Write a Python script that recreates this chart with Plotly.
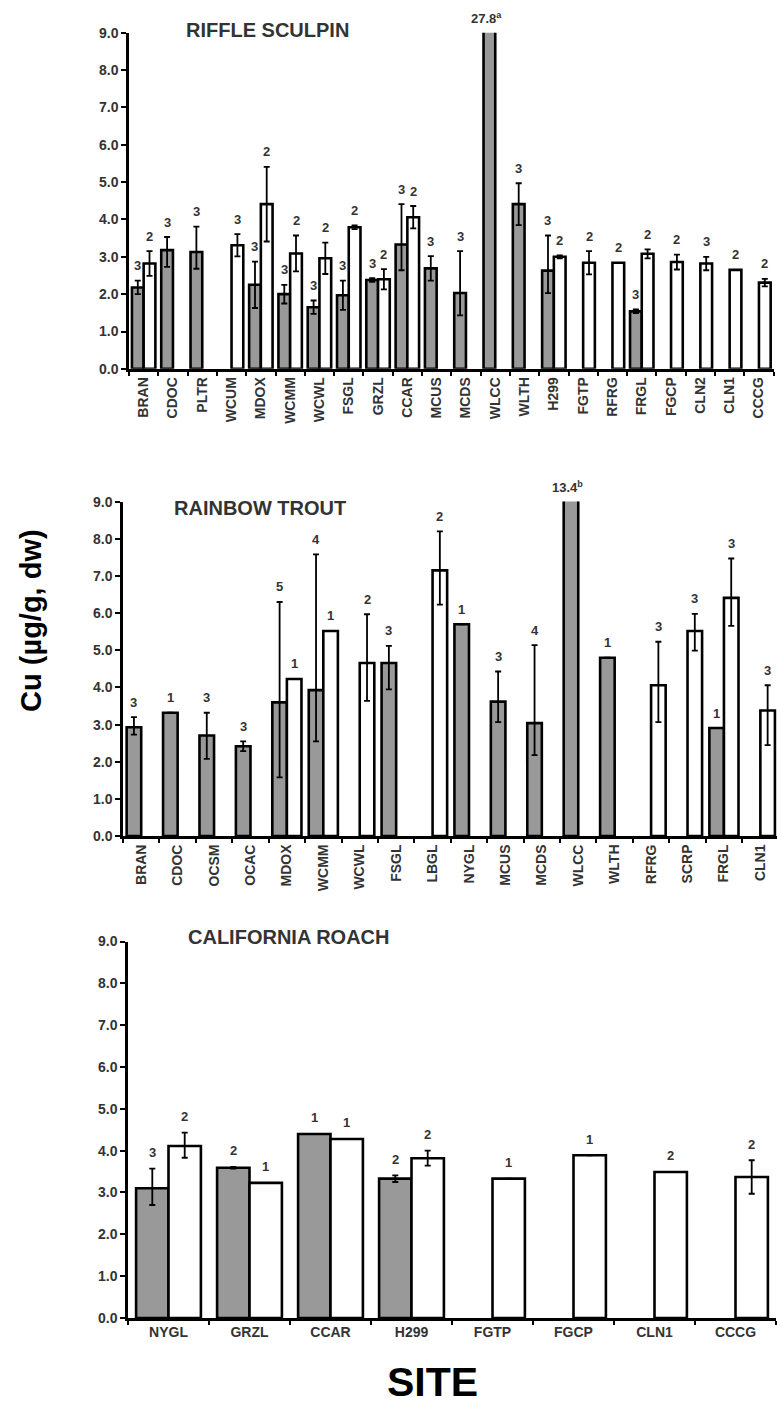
import plotly.graph_objects as go

W, H = 777, 1407
FONT = "Arial, Liberation Sans, sans-serif"
GRAY = "#999999"
TXT = "#333333"

# ---------------- RIFFLE SCULPIN ----------------
rs_sites = ["BRAN", "CDOC", "PLTR", "WCUM", "MDOX", "WCMM", "WCWL", "FSGL", "GRZL", "CCAR", "MCUS",
            "MCDS", "WLCC", "WLTH", "H299", "FGTP", "RFRG", "FRGL", "FGCP", "CLN2", "CLN1", "CCCG"]
rs_gray = [2.18, 3.18, 3.13, None, 2.25, 2.00, 1.65, 1.97, 2.38, 3.33, 2.69,
           2.03, 27.8, 4.41, 2.63, None, None, 1.54, None, None, None, None]
rs_gray_hi = [0.18, 0.35, 0.68, None, 0.62, 0.25, 0.18, 0.39, 0.05, 1.08, 0.33,
              1.12, None, 0.56, 0.94, None, None, 0.05, None, None, None, None]
rs_gray_lo = [0.18, 0.45, 0.45, None, 0.62, 0.25, 0.18, 0.39, 0.05, 0.69, 0.33,
              0.60, None, 0.56, 0.60, None, None, 0.05, None, None, None, None]
rs_gray_n = ["3", "3", "3", "", "3", "3", "3", "3", "3", "3", "3",
             "3", "", "3", "3", "", "", "3", "", "", "", ""]
rs_white = [2.82, None, None, 3.31, 4.41, 3.09, 2.96, 3.79, 2.40, 4.06, None,
            None, None, None, 3.00, 2.84, 2.84, 3.08, 2.86, 2.82, 2.65, 2.31]
rs_white_hi = [0.33, None, None, 0.30, 1.00, 0.48, 0.42, 0.05, 0.27, 0.30, None,
               None, None, None, 0.04, 0.31, None, 0.12, 0.20, 0.18, None, 0.10]
rs_white_n = ["2", "", "", "3", "2", "2", "2", "2", "2", "2", "",
              "", "", "", "2", "2", "2", "2", "2", "3", "2", "2"]

# ---------------- RAINBOW TROUT ----------------
rt_sites = ["BRAN", "CDOC", "OCSM", "OCAC", "MDOX", "WCMM", "WCWL", "FSGL", "LBGL", "NYGL", "MCUS",
            "MCDS", "WLCC", "WLTH", "RFRG", "SCRP", "FRGL", "CLN1"]
rt_gray = [2.93, 3.32, 2.71, 2.42, 3.60, 3.93, None, 4.66, None, 5.70, 3.62,
           3.04, 13.4, 4.80, None, None, 2.91, None]
rt_gray_hi = [0.27, None, 0.61, 0.13, 2.70, 3.65, None, 0.46, None, None, 0.81,
              2.10, None, None, None, None, None, None]
rt_gray_lo = [0.20, None, 0.63, 0.13, 2.02, 1.38, None, 0.71, None, None, 0.55,
              0.86, None, None, None, None, None, None]
rt_gray_n = ["3", "1", "3", "3", "5", "4", "", "3", "", "1", "3",
             "4", "", "1", "", "", "1", ""]
rt_white = [None, None, None, None, 4.23, 5.52, 4.66, None, 7.15, None, None,
            None, None, None, 4.06, 5.52, 6.41, 3.38]
rt_white_hi = [None, None, None, None, None, None, 1.31, None, 1.05, None, None,
               None, None, None, 1.17, 0.46, 1.06, 0.68]
rt_white_lo = [None, None, None, None, None, None, 1.02, None, 0.92, None, None,
               None, None, None, 0.99, 0.53, 0.75, 0.93]
rt_white_n = ["", "", "", "", "1", "1", "2", "", "2", "", "",
              "", "", "", "3", "3", "3", "3"]

# ---------------- CALIFORNIA ROACH ----------------
cr_sites = ["NYGL", "GRZL", "CCAR", "H299", "FGTP", "FGCP", "CLN1", "CCCG"]
cr_gray = [3.10, 3.59, 4.40, 3.33, None, None, None, None]
cr_gray_hi = [0.47, 0.02, None, 0.08, None, None, None, None]
cr_gray_lo = [0.40, 0.02, None, 0.08, None, None, None, None]
cr_gray_n = ["3", "2", "1", "2", "", "", "", ""]
cr_white = [4.11, 3.23, 4.28, 3.82, 3.33, 3.89, 3.49, 3.37]
cr_white_hi = [0.32, None, None, 0.18, None, None, None, 0.40]
cr_white_lo = [0.28, None, None, 0.18, None, None, None, 0.40]
cr_white_n = ["2", "1", "1", "2", "1", "1", "2", "2"]

clip_labels = {("rs", "WLCC"): "27.8<sup>a</sup>", ("rt", "WLCC"): "13.4<sup>b</sup>"}

YMAX = 9.0

# panel geometry (pixels)
panels = [
    dict(key="rs", title="RIFFLE SCULPIN", sites=rs_sites,
         gray=rs_gray, ghi=rs_gray_hi, glo=rs_gray_lo, gn=rs_gray_n,
         white=rs_white, whi=rs_white_hi, wlo=rs_white_hi, wn=rs_white_n,
         x0=129, x1=773.6, ytop=25, ybot=365, xr=[-0.5, 21.5], rot=True,
         title_xy=(267, 22)),
    dict(key="rt", title="RAINBOW TROUT", sites=rt_sites,
         gray=rt_gray, ghi=rt_gray_hi, glo=rt_gray_lo, gn=rt_gray_n,
         white=rt_white, whi=rt_white_hi, wlo=rt_white_lo, wn=rt_white_n,
         x0=123, x1=777, ytop=499.3, ybot=837.7, xr=[-0.5, 17.457], rot=True,
         title_xy=(260, 506)),
    dict(key="cr", title="CALIFORNIA ROACH", sites=cr_sites,
         gray=cr_gray, ghi=cr_gray_hi, glo=cr_gray_lo, gn=cr_gray_n,
         white=cr_white, whi=cr_white_hi, wlo=cr_white_lo, wn=cr_white_n,
         x0=128, x1=776, ytop=944.3, ybot=1325, xr=[-0.5, 7.5], rot=False,
         title_xy=(288, 940)),
]

fig = go.Figure()
annotations = []
layout_axes = {}

for k, p in enumerate(panels):
    sfx = "" if k == 0 else str(k + 1)
    xa, ya = "x" + sfx, "y" + sfx
    err_style = dict(type="data", symmetric=False, color="black", thickness=1.8, width=3)
    fig.add_trace(go.Bar(
        x=p["sites"], y=p["gray"], xaxis=xa, yaxis=ya,
        marker=dict(color=GRAY, line=dict(color="black", width=2.6)),
        error_y=dict(array=p["ghi"], arrayminus=p["glo"], **err_style),
        showlegend=False))
    fig.add_trace(go.Bar(
        x=p["sites"], y=p["white"], xaxis=xa, yaxis=ya,
        marker=dict(color="white", line=dict(color="black", width=2.6)),
        error_y=dict(array=p["whi"], arrayminus=p["wlo"], **err_style),
        showlegend=False))

    layout_axes["xaxis" + sfx] = dict(
        domain=[p["x0"] / W, p["x1"] / W], anchor=ya, type="category",
        range=p["xr"], showline=True, linecolor="black", linewidth=2.5,
        ticks="outside", tickson="boundaries", ticklen=4, tickwidth=2, tickcolor="black",
        tickangle=-90 if p["rot"] else 0, showgrid=False, zeroline=False,
        tickfont=dict(family=FONT, size=14, color=TXT, weight="bold"),
        fixedrange=True)
    layout_axes["yaxis" + sfx] = dict(
        domain=[1 - p["ybot"] / H, 1 - p["ytop"] / H], anchor=xa,
        range=[0, YMAX], tickvals=[i for i in range(10)], tickformat=".1f",
        showline=True, linecolor="black", linewidth=2.5,
        ticks="outside", ticklen=5, tickwidth=2, tickcolor="black",
        showgrid=False, zeroline=False,
        tickfont=dict(family=FONT, size=14, color=TXT, weight="bold"),
        fixedrange=True)

    ysh = 16 if k == 2 else 15
    for i, site in enumerate(p["sites"]):
        for val, hi, n, off in ((p["gray"][i], p["ghi"][i], p["gn"][i], -0.2),
                                 (p["white"][i], p["whi"][i], p["wn"][i], 0.2)):
            if val is None:
                continue
            if val > YMAX:
                lbl = clip_labels.get((p["key"], site))
                if lbl:
                    annotations.append(dict(
                        x=i + off, y=YMAX, xref=xa, yref=ya, text=lbl, showarrow=False,
                        yanchor="bottom", yshift=5, xshift=-3,
                        font=dict(family=FONT, size=13, color=TXT, weight="bold")))
                continue
            if not n:
                continue
            top = val + (hi or 0)
            annotations.append(dict(
                x=i + off, y=top, xref=xa, yref=ya, text=n, showarrow=False,
                yanchor="middle", yshift=ysh,
                font=dict(family=FONT, size=13, color=TXT, weight="bold")))

    tx, ty = p["title_xy"]
    annotations.append(dict(
        x=tx / W, y=1 - ty / H, xref="paper", yref="paper", text=p["title"],
        showarrow=False, xanchor="center", yanchor="middle",
        font=dict(family=FONT, size=20, color=TXT, weight="bold")))

# axis titles
annotations.append(dict(
    x=31 / W, y=1 - 620 / H, xref="paper", yref="paper", text="Cu (µg/g, dw)",
    textangle=-90, showarrow=False, xanchor="center", yanchor="middle",
    font=dict(family=FONT, size=29, color="black", weight="bold")))
annotations.append(dict(
    x=432 / W, y=1 - 1390 / H, xref="paper", yref="paper", text="SITE",
    showarrow=False, xanchor="center", yanchor="middle",
    font=dict(family=FONT, size=41, color="black", weight="bold")))

fig.update_layout(
    width=W, height=H, margin=dict(l=0, r=0, t=0, b=0),
    paper_bgcolor="white", plot_bgcolor="white",
    barmode="group", bargap=0.2, bargroupgap=0.0,
    showlegend=False, annotations=annotations, **layout_axes)

fig.write_html("out.html", include_plotlyjs=True, config={"displayModeBar": False})
